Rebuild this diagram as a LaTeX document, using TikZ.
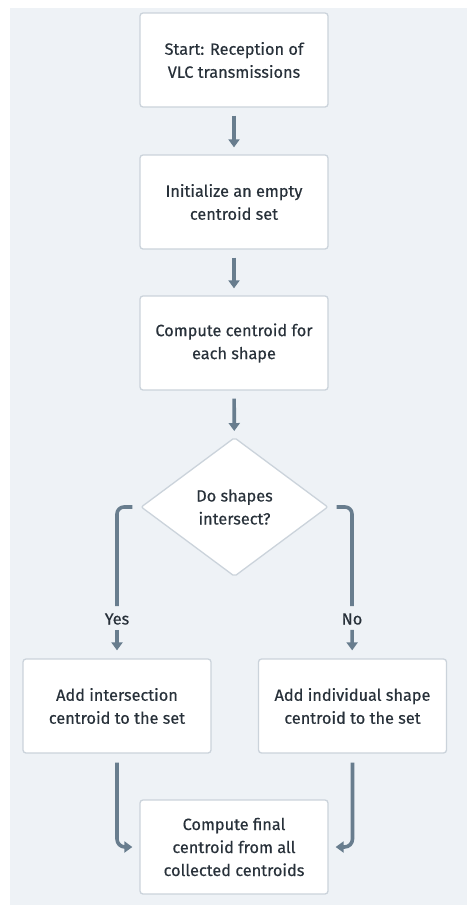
\documentclass[tikz,border=0pt]{standalone}
\usepackage{fontspec}
\setmainfont{Fira Sans}[UprightFeatures={FakeBold=0.35}]
\usetikzlibrary{arrows.meta,shapes.geometric}
\definecolor{panel}{HTML}{EEF2F6}
\definecolor{edge}{HTML}{CBD3DB}
\definecolor{arr}{HTML}{687D8E}
\definecolor{ink}{HTML}{28313A}
\tikzset{
  txt/.style={font=\fontsize{16.3}{23}\selectfont},
  stepbox/.style={draw=edge, line width=1.3pt, fill=white, rounded corners=3pt,
    minimum width=188pt, minimum height=94pt, align=center, text=ink, txt},
  decision/.style={draw=edge, line width=1.3pt, fill=white, diamond, rounded corners=2pt,
    minimum width=187pt, minimum height=139pt, inner sep=0pt, align=center, text=ink, txt},
  lbl/.style={text=ink, txt, inner sep=1pt},
  flow/.style={draw=arr, line width=3.6pt, -{Triangle[width=11pt,length=8pt]}},
  branch/.style={draw=arr, line width=3.6pt, rounded corners=7pt}
}
\begin{document}
\begin{tikzpicture}[x=1pt,y=-1pt]
\useasboundingbox (0,0) rectangle (474,916);
\fill[panel] (10,8) rectangle (467,905);
\node[stepbox] (b1) at (234,60) {Start: Reception of\\VLC transmissions};
\node[stepbox] (b2) at (234,202) {Initialize an empty\\centroid set};
\node[stepbox] (b3) at (234,343) {Compute centroid for\\each shape};
\node[decision] (d) at (234.5,507) {Do shapes\\intersect?};
\node[lbl] (yes) at (117,619) {Yes};
\node[lbl] (no) at (352,619) {No};
\node[stepbox] (b4) at (117,706) {Add intersection\\centroid to the set};
\node[stepbox] (b5) at (352.5,706) {Add individual shape\\centroid to the set};
\node[stepbox] (b6) at (234,847) {Compute final\\centroid from all\\collected centroids};
\draw[flow, shorten <=8pt, shorten >=7pt] (b1) -- (b2);
\draw[flow, shorten <=8pt, shorten >=7pt] (b2) -- (b3);
\draw[flow, shorten <=8pt, shorten >=6pt] (b3) -- (d);
\draw[branch, shorten <=8pt, shorten >=6pt] (d.west) -| (yes.north);
\draw[branch, shorten <=8pt, shorten >=6pt] (d.east) -| (no.north);
\draw[flow, shorten <=4pt, shorten >=8pt] (yes) -- (b4);
\draw[flow, shorten <=4pt, shorten >=8pt] (no) -- (b5);
\draw[flow, rounded corners=8pt, shorten <=9pt, shorten >=7pt] (b4.south) |- (b6.west);
\draw[flow, rounded corners=8pt, shorten <=9pt, shorten >=7pt] (b5.south) |- (b6.east);
\end{tikzpicture}
\end{document}
